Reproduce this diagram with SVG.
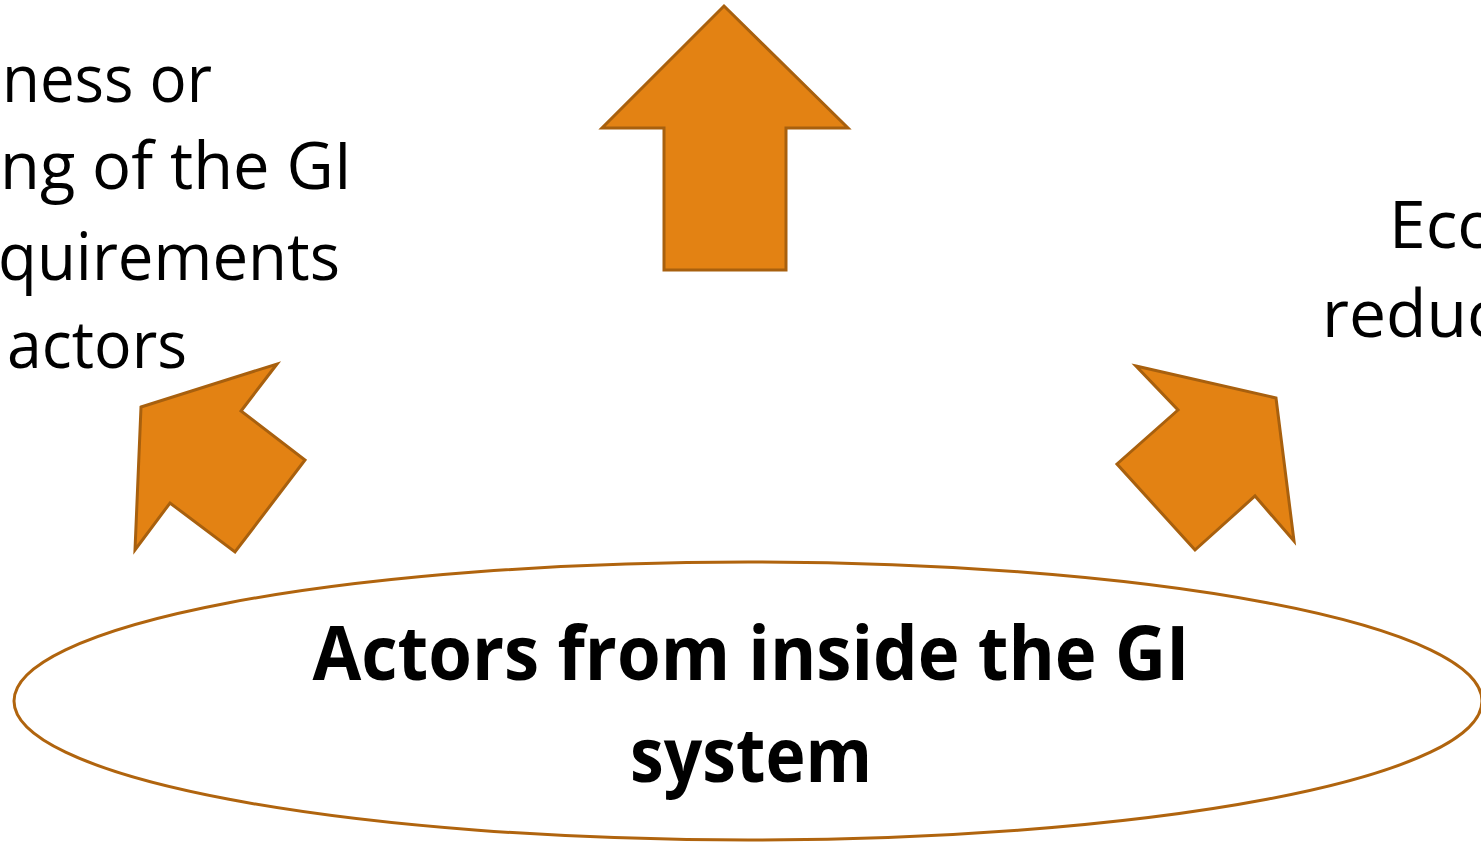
<svg xmlns="http://www.w3.org/2000/svg" width="1481" height="842" viewBox="0 0 1481 842">
<style>
.arrow{fill:#E38213;stroke:#A8600E;stroke-width:3;stroke-linejoin:miter}
.t{font-family:"Open Sans","Liberation Sans",sans-serif;font-size:66px;fill:#000}
.b{font-family:"Open Sans","Liberation Sans",sans-serif;font-size:76px;font-weight:bold;fill:#000}
</style>
<rect width="1481" height="842" fill="#fff"/>
<g id="text-left">
<text class="t" x="212" y="102" text-anchor="end" textLength="210" lengthAdjust="spacingAndGlyphs">ness or</text>
<text class="t" x="352" y="189" text-anchor="end" textLength="352" lengthAdjust="spacingAndGlyphs">ng of the GI</text>
<text class="t" x="340" y="280" text-anchor="end" textLength="342" lengthAdjust="spacingAndGlyphs">quirements</text>
<text class="t" x="187" y="368" text-anchor="end" textLength="180" lengthAdjust="spacingAndGlyphs">actors</text>
</g>
<g id="text-right">
<text class="t" x="1389" y="248">Eco</text>
<text class="t" x="1322" y="337">reduc</text>
</g>
<g id="connectors">
<polygon id="arrow-top" class="arrow" points="724,6 848,128 786,128 786,270 664,270 664,128 602,128"/>
<polygon id="arrow-left" class="arrow" points="141,407 277,364 241,411 305,460 235,552 170,503 135,550"/>
<polygon id="arrow-right" class="arrow" points="1136,366 1276,398 1294,541 1255,496 1195,550 1117,464 1178,410"/>
</g>
<g id="node-actors">
<ellipse cx="748" cy="701" rx="734" ry="139" fill="#fff" stroke="#B0640E" stroke-width="3"/>
<text class="b" x="751" y="680" text-anchor="middle" textLength="877" lengthAdjust="spacingAndGlyphs">Actors from inside the GI</text>
<text class="b" x="751" y="782" text-anchor="middle" textLength="242" lengthAdjust="spacingAndGlyphs">system</text>
</g>
</svg>
